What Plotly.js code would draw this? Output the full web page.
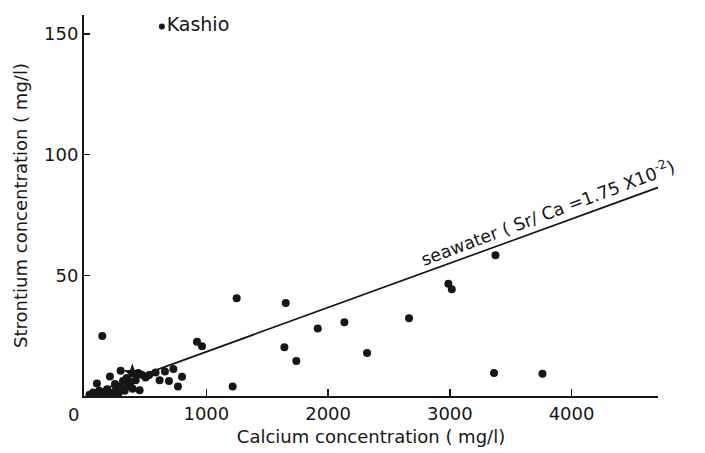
<!DOCTYPE html>
<html>
<head>
<meta charset="utf-8">
<script src="https://cdn.plot.ly/plotly-3.0.1.min.js"></script>
<style>html,body{margin:0;padding:0;background:#fff;}#chart{width:705px;height:453px;}</style>
</head>
<body>
<div id="chart"></div>
<script>
// Calcium (mg/l) and Strontium (mg/l) of sampled waters
var calcium = [40,70,95,120,140,165,185,205,230,255,280,300,330,360,395,
  101,145,208,296,250,315,345,375,420,452,470,440,501,530,583,616,660,693,729,767,800,
  923,964,1216,1249,1641,1652,1739,1915,2134,2320,2665,2988,3016,3363,3375,3761];
var strontium = [0.5,1.5,0.8,2.2,1,0.6,2.8,1.5,0.8,2.5,1.2,3.5,2.2,4.2,3,
  5.2,24.9,8.1,10.5,5,6.2,7.5,5.5,6.5,2.4,8.8,9.5,7.7,8.7,9.7,6.5,10.1,6.2,11.2,3.9,8,
  22.5,20.6,3.9,40.5,20.2,38.5,14.5,28,30.5,17.8,32.2,46.5,44.2,9.5,58.3,9.2];
// Kashio
var kashioCa = [635];
var kashioSr = [153];
var kashioLabel = ["Kashio"];
// seawater point (star)
var seaCa = [392];
var seaSr = [9.5];
// seawater line as drawn
var lineCa = [100, 4800];
var lineSr = [1.8, 88];
var xTicks = [1000, 2000, 3000, 4000];
var xTickText = ["1000", "2000", "3000", "4000"];
var yTicks = [50, 100, 150];
var yTickText = ["50", "100", "150"];

var FONT = "DejaVu Sans, sans-serif";
var INK = "#161616";

var traces = [
  {x: lineCa, y: lineSr, mode: "lines", line: {color: INK, width: 1.7}, hoverinfo: "skip"},
  {x: calcium, y: strontium, mode: "markers", marker: {color: INK, size: 8}},
  {x: seaCa, y: seaSr, mode: "markers", marker: {color: INK, size: 14, symbol: "star"}},
  {x: kashioCa, y: kashioSr, mode: "markers+text", text: kashioLabel, textposition: "middle right",
   textfont: {family: FONT, size: 19, color: INK}, marker: {color: INK, size: 6}, cliponaxis: false}
];

var layout = {
  width: 705, height: 453,
  margin: {l: 84, r: 47, t: 15, b: 57},
  paper_bgcolor: "#fff", plot_bgcolor: "#fff",
  showlegend: false,
  font: {family: FONT, size: 18, color: INK},
  xaxis: {
    range: [-5, 4710], showgrid: false, zeroline: false,
    showline: true, linecolor: INK, linewidth: 2,
    ticks: "inside", ticklen: 7, tickwidth: 1.5, tickcolor: INK,
    tickvals: xTicks, ticktext: xTickText,
    tickfont: {family: FONT, size: 18, color: INK},
    title: {text: "Calcium concentration ( mg/l)", font: {family: FONT, size: 18, color: INK}, standoff: 8}
  },
  yaxis: {
    range: [0, 157.8], showgrid: false, zeroline: false,
    showline: true, linecolor: INK, linewidth: 2,
    ticks: "inside", ticklen: 6, tickwidth: 1.5, tickcolor: INK,
    tickvals: yTicks, ticktext: yTickText,
    tickfont: {family: FONT, size: 18, color: INK},
    title: {text: "Strontium concentration ( mg/l)", font: {family: FONT, size: 18, color: INK}, standoff: 12}
  },
  annotations: [
    {x: 0, y: 0, xref: "x", yref: "paper", text: "0", showarrow: false, xanchor: "center", yanchor: "top",
     xshift: -11, yshift: -6, font: {family: FONT, size: 18, color: INK}},
    {x: 3800, y: 76.2, xref: "x", yref: "y", text: "seawater ( Sr/ Ca =1.75 X10<sup>-2</sup>)",
     showarrow: false, textangle: -20.5, font: {family: FONT, size: 17.5, color: INK}}
  ]
};

Plotly.newPlot("chart", traces, layout, {displayModeBar: false, staticPlot: true});
</script>
</body>
</html>
